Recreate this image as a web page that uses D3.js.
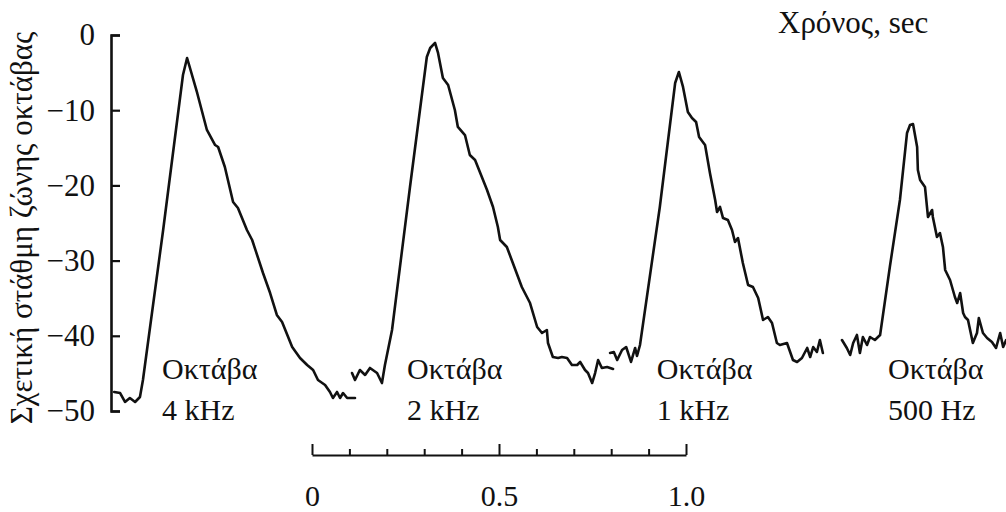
<!DOCTYPE html>
<html>
<head>
<meta charset="utf-8">
<script src="https://cdn.jsdelivr.net/npm/d3@7"></script>
<style>
  html, body { margin: 0; padding: 0; background: #fff; }
  svg { display: block; }
  text { font-family: "Liberation Serif", "Times New Roman", serif; fill: #111; }
</style>
</head>
<body>
<svg id="chart" width="1006" height="512"></svg>
<script>
// ---- Data (time in seconds relative to scale-bar zero, level in dB) ----
const yTicks = [0, -10, -20, -30, -40, -50];
const scaleTicks = [0, 0.1, 0.2, 0.3, 0.4, 0.5, 0.6, 0.7, 0.8, 0.9, 1.0];
const scaleMajor = [0, 0.5, 1.0];
const scaleLabels = ["0", "0.5", "1.0"];
const yTitle = "Σχετική στάθμη ζώνης οκτάβας";
const xTitle = "Χρόνος, sec";
const bandNames = ["Οκτάβα", "Οκτάβα", "Οκτάβα", "Οκτάβα"];
const bandFreqs = ["4 kHz", "2 kHz", "1 kHz", "500 Hz"];
const bandLabelTime = [-0.401, 0.254, 0.922, 1.540];

const time4k = [-0.529,-0.513,-0.500,-0.487,-0.473,-0.460,-0.452,-0.398,-0.345,-0.334,-0.307,-0.281,-0.259,-0.251,-0.233,-0.211,-0.198,-0.174,-0.160,-0.131,-0.112,-0.094,-0.080,-0.053,-0.032,-0.013,0.003,0.016,0.035,0.048,0.056,0.067,0.075,0.083,0.094,0.115];
const level4k = [-47.47,-47.61,-48.80,-48.27,-48.80,-48.14,-45.88,-25.93,-5.32,-3.06,-7.71,-12.63,-14.63,-14.89,-17.55,-22.21,-23.01,-25.93,-27.26,-31.65,-34.31,-37.23,-38.16,-41.49,-42.95,-43.88,-44.55,-45.88,-46.54,-47.47,-48.27,-47.47,-48.27,-47.61,-48.27,-48.27];

const time2k = [0.107,0.115,0.128,0.142,0.155,0.174,0.187,0.195,0.214,0.262,0.307,0.316,0.329,0.337,0.350,0.364,0.382,0.390,0.409,0.422,0.436,0.468,0.484,0.497,0.503,0.521,0.537,0.561,0.583,0.602,0.615,0.628,0.631,0.644,0.658,0.668,0.682,0.695,0.709,0.717,0.730,0.738,0.749,0.757,0.765,0.775,0.789,0.805];
const level2k = [-44.95,-45.88,-44.55,-45.21,-44.28,-44.95,-46.28,-43.88,-39.23,-20.21,-2.93,-1.73,-1.06,-2.39,-5.72,-6.65,-9.97,-12.23,-13.30,-15.96,-16.62,-20.61,-22.87,-25.53,-27.26,-28.19,-30.32,-33.51,-35.64,-38.83,-39.63,-39.23,-40.96,-42.82,-42.95,-42.82,-42.95,-43.88,-43.88,-43.48,-44.55,-44.95,-46.28,-44.95,-43.22,-44.28,-44.15,-44.41];

const time1k = [0.797,0.807,0.816,0.829,0.840,0.853,0.864,0.869,0.877,0.930,0.971,0.981,0.992,1.005,1.016,1.027,1.035,1.051,1.064,1.078,1.083,1.091,1.099,1.112,1.123,1.131,1.139,1.152,1.166,1.179,1.193,1.206,1.219,1.230,1.243,1.251,1.270,1.286,1.297,1.310,1.324,1.332,1.340,1.350,1.358,1.366];
const level1k = [-42.29,-42.15,-43.22,-41.89,-41.49,-43.48,-41.62,-42.69,-41.22,-22.87,-6.38,-4.92,-6.91,-10.24,-11.04,-11.57,-13.56,-14.63,-18.35,-21.94,-23.54,-22.87,-24.34,-24.60,-25.93,-27.53,-27.00,-30.32,-33.24,-33.51,-34.97,-37.90,-37.50,-38.30,-40.96,-41.22,-40.96,-43.22,-43.48,-42.95,-41.62,-42.82,-41.49,-42.15,-40.56,-42.29];

const time500 = [1.417,1.430,1.439,1.447,1.457,1.465,1.473,1.484,1.492,1.505,1.519,1.545,1.572,1.591,1.599,1.607,1.618,1.620,1.626,1.639,1.647,1.658,1.660,1.671,1.679,1.687,1.693,1.706,1.719,1.725,1.733,1.741,1.746,1.754,1.767,1.778,1.783,1.794,1.805,1.818,1.829,1.840,1.848,1.856];
const level500 = [-40.56,-41.62,-42.55,-40.96,-39.89,-42.29,-40.16,-41.22,-40.16,-40.56,-39.89,-30.85,-21.94,-13.03,-11.97,-11.84,-14.89,-17.95,-19.28,-20.21,-24.20,-23.27,-24.20,-26.86,-26.33,-28.19,-31.25,-32.58,-34.84,-35.64,-34.31,-36.97,-37.50,-37.90,-40.96,-39.63,-37.63,-39.63,-40.29,-40.82,-41.62,-39.63,-41.49,-40.56];

// ---- Layout ----
const svg = d3.select("#chart");
const x = d3.scaleLinear().domain([0, 1]).range([312, 686]);
const y = d3.scaleLinear().domain([0, -50]).range([35, 411]);
const axisX = 111;

// y axis (ticks pointing inward, labels on the left)
const yAxis = d3.axisLeft(y)
  .tickValues(yTicks)
  .tickSizeInner(-9)
  .tickSizeOuter(-9)
  .tickPadding(16)
  .tickFormat(d3.format("d"));
const gy = svg.append("g").attr("transform", `translate(${axisX},0)`).call(yAxis);
gy.select(".domain").attr("stroke", "#111").attr("stroke-width", 2.6).attr("fill", "none");
gy.selectAll(".tick line").attr("stroke", "#111").attr("stroke-width", 2.2);
gy.selectAll(".tick text")
  .style("font-family", '"Liberation Serif", serif')
  .style("font-size", "31px")
  .attr("fill", "#111");

// y title
svg.append("text")
  .attr("transform", `translate(32,${(y(0) + y(-50)) / 2 + 5}) rotate(-90)`)
  .attr("text-anchor", "middle")
  .style("font-size", "31px")
  .text(yTitle);

// x title (top right)
svg.append("text")
  .attr("x", 778).attr("y", 33)
  .style("font-size", "31px")
  .text(xTitle);

// curves
const line = d3.line().x(d => x(d[0])).y(d => y(d[1]));
const series = [
  d3.zip(time4k, level4k),
  d3.zip(time2k, level2k),
  d3.zip(time1k, level1k),
  d3.zip(time500, level500)
];
svg.append("g").selectAll("path").data(series).join("path")
  .attr("d", line)
  .attr("fill", "none")
  .attr("stroke", "#111")
  .attr("stroke-width", 2.6)
  .attr("stroke-linejoin", "round")
  .attr("stroke-linecap", "round");

// band labels
const lab = svg.append("g").selectAll("g").data(bandFreqs).join("g")
  .attr("transform", (d, i) => `translate(${x(bandLabelTime[i])},0)`);
lab.append("text").attr("y", 379).style("font-size", "30px").text((d, i) => bandNames[i]);
lab.append("text").attr("y", 420).style("font-size", "30px").text(d => d);

// time scale bar
const barY = 455;
const minorAxis = d3.axisTop(x)
  .tickValues(scaleTicks)
  .tickSizeInner(6)
  .tickSizeOuter(0)
  .tickFormat("");
const gb = svg.append("g").attr("transform", `translate(0,${barY})`).call(minorAxis);
gb.select(".domain").attr("stroke", "#111").attr("stroke-width", 2.2);
gb.selectAll(".tick line")
  .attr("stroke", "#111").attr("stroke-width", 2)
  .attr("y2", d => scaleMajor.some(m => Math.abs(m - d) < 1e-9) ? -11 : -6);

const labAxis = d3.axisBottom(x)
  .tickValues(scaleMajor)
  .tickSize(0)
  .tickPadding(0)
  .tickFormat((d, i) => scaleLabels[i]);
const gl = svg.append("g").attr("transform", `translate(0,${barY + 30})`).call(labAxis);
gl.select(".domain").remove();
gl.selectAll(".tick text")
  .style("font-family", '"Liberation Serif", serif')
  .style("font-size", "30px")
  .attr("fill", "#111");
</script>
</body>
</html>
